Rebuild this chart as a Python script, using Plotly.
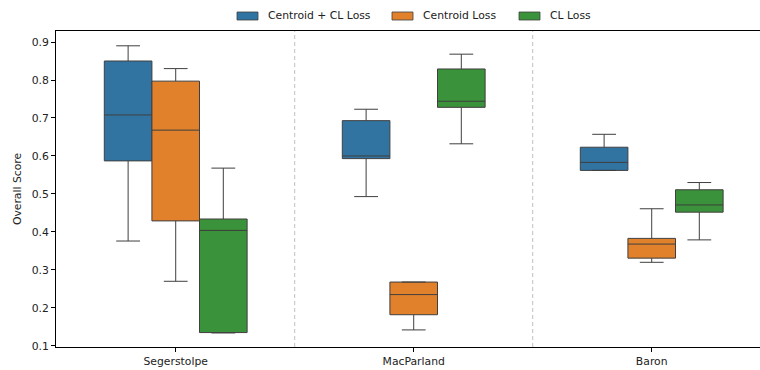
import plotly.graph_objects as go

datasets = ["Segerstolpe", "MacParland", "Baron"]
methods = ["Centroid + CL Loss", "Centroid Loss", "CL Loss"]
colors = ["#3274a1", "#e1812c", "#3a923a"]

# Box summary statistics per method, one value per dataset
lower = {
    "Centroid + CL Loss": [0.376, 0.493, 0.562],
    "Centroid Loss": [0.270, 0.142, 0.320],
    "CL Loss": [0.134, 0.632, 0.379],
}
q1 = {
    "Centroid + CL Loss": [0.587, 0.593, 0.562],
    "Centroid Loss": [0.429, 0.182, 0.331],
    "CL Loss": [0.135, 0.728, 0.452],
}
median = {
    "Centroid + CL Loss": [0.708, 0.600, 0.583],
    "Centroid Loss": [0.668, 0.235, 0.368],
    "CL Loss": [0.404, 0.744, 0.471],
}
q3 = {
    "Centroid + CL Loss": [0.850, 0.693, 0.623],
    "Centroid Loss": [0.797, 0.268, 0.383],
    "CL Loss": [0.434, 0.829, 0.511],
}
upper = {
    "Centroid + CL Loss": [0.890, 0.723, 0.657],
    "Centroid Loss": [0.830, 0.268, 0.461],
    "CL Loss": [0.568, 0.868, 0.530],
}
y_ticks = [0.1, 0.2, 0.3, 0.4, 0.5, 0.6, 0.7, 0.8, 0.9]

W, H = 760, 370
L, T, B = 56, 31, 23
PW, PH = W - L, H - T - B
FS = 10.8

fig = go.Figure()
for m, c in zip(methods, colors):
    fig.add_trace(go.Box(
        name=m,
        x=datasets,
        q1=q1[m], median=median[m], q3=q3[m],
        lowerfence=lower[m], upperfence=upper[m],
        fillcolor=c,
        line=dict(color="#3f3f3f", width=1),
        whiskerwidth=0.5,
        boxpoints=False,
        hoverinfo="skip",
        showlegend=False,
    ))

# dashed separators between dataset groups
for xv in [0.5, 1.5]:
    fig.add_shape(type="line", xref="x", yref="paper", x0=xv, x1=xv, y0=0, y1=1,
                  line=dict(color="#c0c0c0", width=1, dash="4px,3px"), layer="below")

# legend row above the axes: wide patches followed by labels (pixel positions)
legend_x = [237, 392, 519]
for px, m, c in zip(legend_x, methods, colors):
    fig.add_shape(type="rect", xref="paper", yref="paper",
                  x0=(px - L) / PW, x1=(px + 21 - L) / PW,
                  y0=1 + (T - 20) / PH, y1=1 + (T - 12) / PH,
                  fillcolor=c, line=dict(color="#3f3f3f", width=0.8))
    fig.add_annotation(xref="paper", yref="paper",
                       x=(px + 29 - L) / PW, y=1 + (T - 16) / PH,
                       text=m, showarrow=False, xanchor="left", yanchor="middle",
                       font=dict(size=FS, color="#222222"))

fig.update_layout(
    width=W, height=H,
    margin=dict(l=L, r=0, t=T, b=B),
    paper_bgcolor="white", plot_bgcolor="white",
    boxmode="group", boxgap=0.4, boxgroupgap=0,
    font=dict(family="DejaVu Sans", size=FS, color="#222222"),
    xaxis=dict(
        range=[-0.503, 2.455], showline=True, linecolor="black", linewidth=1,
        mirror=True, ticks="outside", ticklen=4, tickcolor="black",
        showgrid=False, zeroline=False, tickfont=dict(size=FS),
    ),
    yaxis=dict(
        range=[0.097, 0.929], tickvals=y_ticks, ticktext=[f"{v:.1f}" for v in y_ticks],
        showline=True, linecolor="black", linewidth=1, ticks="outside", ticklen=4,
        tickcolor="black", showgrid=False, zeroline=False,
        title=dict(text="Overall Score", font=dict(size=FS), standoff=7),
        tickfont=dict(size=FS),
    ),
)

fig.write_html("out.html")
